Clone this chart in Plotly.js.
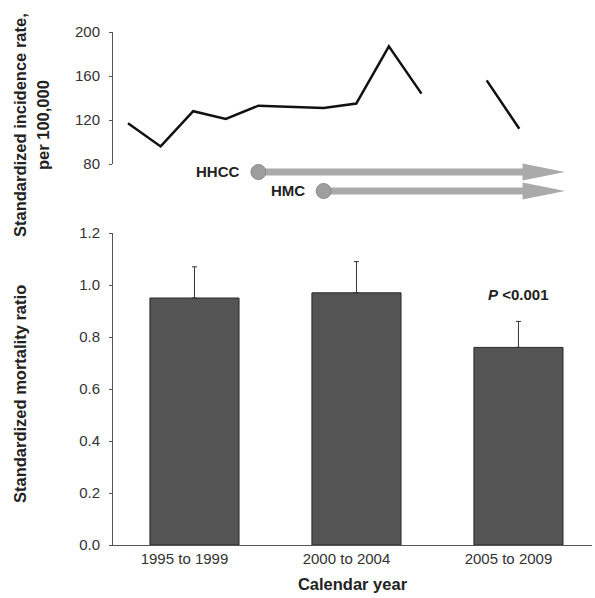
<!DOCTYPE html>
<html>
<head>
<meta charset="utf-8">
<script src="https://cdn.plot.ly/plotly-3.0.1.min.js"></script>
<style>html,body{margin:0;padding:0;background:#fff;}#chart{width:595px;height:598px;}</style>
</head>
<body>
<div id="chart"></div>
<script>
// ---- data ----
var years = [1995, 1996, 1997, 1998, 1999, 2000, 2001, 2002, 2003, 2004, 2005, 2006, 2007];
var incidence = [117, 96, 128, 121, 133, 132, 131, 135, 187, 144, null, 156, 112];

var periods = ['1995 to 1999', '2000 to 2004', '2005 to 2009'];
var smr = [0.95, 0.97, 0.76];
var smrErrUp = [0.12, 0.12, 0.10];

var programs = ['HHCC', 'HMC'];
var programStart = [1999, 2001];
var programEnd = [2008.4, 2008.4];

var incTicks = [80, 120, 160, 200];
var smrTicks = [0, 0.2, 0.4, 0.6, 0.8, 1.0, 1.2];
var smrTickText = ['0.0', '0.2', '0.4', '0.6', '0.8', '1.0', '1.2'];
var pLabel = '<b><i>P</i> &lt;0.001</b>';

// ---- style ----
var FONT = 'Liberation Sans, Arial, sans-serif';
var arrowGrey = '#aaaaaa';
var headLen = 1.3;    // years
var headHalf = 0.45;  // row units

var traces = [];

traces.push({
  type: 'bar', x: periods, y: smr, xaxis: 'x', yaxis: 'y',
  marker: {color: '#545454', line: {color: '#2a2a2a', width: 1}},
  error_y: {type: 'data', symmetric: false, array: smrErrUp, arrayminus: [0, 0, 0],
            color: '#333', thickness: 1, width: 2.5},
  hoverinfo: 'skip', showlegend: false
});

traces.push({
  type: 'scatter', mode: 'lines', x: years, y: incidence, xaxis: 'x2', yaxis: 'y2',
  line: {color: '#111', width: 2.5}, connectgaps: false, showlegend: false, hoverinfo: 'skip'
});

programs.forEach(function (p, i) {
  var s = programStart[i], e = programEnd[i];
  traces.push({
    type: 'scatter', mode: 'lines', x: [s, e - headLen * 0.9], y: [i, i],
    xaxis: 'x2', yaxis: 'y3', line: {color: arrowGrey, width: 7},
    showlegend: false, hoverinfo: 'skip'
  });
  traces.push({
    type: 'scatter', mode: 'lines', fill: 'toself', fillcolor: arrowGrey,
    x: [e - headLen, e, e - headLen, e - headLen],
    y: [i - headHalf, i, i + headHalf, i - headHalf],
    xaxis: 'x2', yaxis: 'y3', line: {width: 0, color: arrowGrey},
    showlegend: false, hoverinfo: 'skip'
  });
  traces.push({
    type: 'scatter', mode: 'markers', x: [s], y: [i], xaxis: 'x2', yaxis: 'y3',
    marker: {size: 15, color: '#9e9e9e', line: {color: '#8a8a8a', width: 1}},
    showlegend: false, hoverinfo: 'skip'
  });
});

var annotations = [];
programs.forEach(function (p, i) {
  annotations.push({
    text: '<b>' + p + '</b>', x: programStart[i], y: i, xref: 'x2', yref: 'y3',
    xanchor: 'right', yanchor: 'middle', xshift: -17, showarrow: false,
    font: {family: FONT, size: 15, color: '#222'}
  });
});
annotations.push({
  text: pLabel, x: periods[2], y: smr[2] + smrErrUp[2], xref: 'x', yref: 'y',
  yanchor: 'bottom', yshift: 16, showarrow: false,
  font: {family: FONT, size: 15, color: '#222'}
});
annotations.push({
  text: '<b>Standardized incidence rate,</b>', xref: 'paper', yref: 'paper',
  x: (20 - 113) / 479, y: (558 - 125) / 538, textangle: -90, showarrow: false,
  xanchor: 'center', yanchor: 'middle', font: {family: FONT, size: 16.5, color: '#222'}
});
annotations.push({
  text: '<b>per 100,000</b>', xref: 'paper', yref: 'paper',
  x: (43 - 113) / 479, y: (558 - 125) / 538, textangle: -90, showarrow: false,
  xanchor: 'center', yanchor: 'middle', font: {family: FONT, size: 16.5, color: '#222'}
});
annotations.push({
  text: '<b>Standardized mortality ratio</b>', xref: 'paper', yref: 'paper',
  x: (20 - 113) / 479, y: (558 - 394) / 538, textangle: -90, showarrow: false,
  xanchor: 'center', yanchor: 'middle', font: {family: FONT, size: 16.5, color: '#222'}
});

var tickFont = {family: FONT, size: 15, color: '#333'};

var layout = {
  width: 595, height: 598,
  margin: {l: 113, r: 3, t: 20, b: 40},
  paper_bgcolor: '#fff', plot_bgcolor: 'rgba(0,0,0,0)',
  font: {family: FONT},
  bargap: 0.45,
  xaxis: {
    domain: [0, 1], anchor: 'y', type: 'category', range: [-0.503, 2.454],
    showline: true, linecolor: '#555', linewidth: 1, ticks: '', showgrid: false,
    zeroline: false, tickfont: tickFont, ticklabelshift: -10,
    title: {text: '<b>Calendar year</b>', font: {family: FONT, size: 16.5, color: '#222'}, standoff: 12}
  },
  yaxis: {
    domain: [(558 - 545) / 538, (558 - 233) / 538], anchor: 'x', range: [0, 1.2],
    showline: true, linecolor: '#555', linewidth: 1, ticks: 'outside', ticklen: 3,
    tickcolor: '#555', tickvals: smrTicks, ticktext: smrTickText, showgrid: false,
    zeroline: false, tickfont: tickFont, ticklabelstandoff: 6
  },
  xaxis2: {
    domain: [0, 1], anchor: 'y2', range: [1994.54, 2009.23], visible: false
  },
  yaxis2: {
    domain: [(558 - 164) / 538, (558 - 32) / 538], anchor: 'x2', range: [80, 200],
    showline: true, linecolor: '#555', linewidth: 1, ticks: 'outside', ticklen: 3,
    tickcolor: '#555', tickvals: incTicks, showgrid: false, zeroline: false, tickfont: tickFont,
    ticklabelstandoff: 6
  },
  yaxis3: {
    domain: [(558 - 200) / 538, (558 - 160) / 538], anchor: 'x2',
    range: [1.474, -0.632], visible: false
  },
  annotations: annotations
};

Plotly.newPlot('chart', traces, layout, {staticPlot: true, displayModeBar: false});
</script>
</body>
</html>
